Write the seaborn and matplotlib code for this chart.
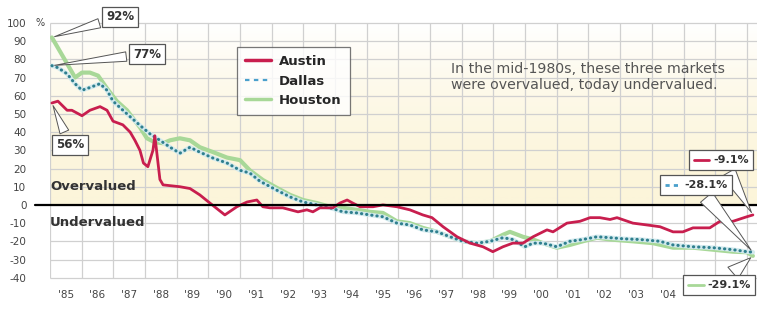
"""Texas housing markets: over/undervaluation, Austin vs Dallas vs Houston."""
import matplotlib

matplotlib.use("Agg")
import matplotlib.pyplot as plt
import numpy as np
import pandas as pd
import seaborn as sns
from matplotlib.colors import LinearSegmentedColormap
from matplotlib.lines import Line2D
from matplotlib.offsetbox import AnnotationBbox, DrawingArea, HPacker, TextArea

# values (percent over/under valued)
austin_years = [1985.06, 1985.25, 1985.54, 1985.69, 1986.01, 1986.26, 1986.58, 1986.80, 1986.99,
                1987.30, 1987.53, 1987.68, 1987.84, 1987.95, 1988.09, 1988.25, 1988.31, 1988.47,
                1988.57, 1989.10, 1989.42, 1989.73, 1990.05, 1990.52, 1990.90, 1991.22, 1991.53,
                1991.72, 1991.94, 1992.35, 1992.83, 1993.11, 1993.30, 1993.52, 1993.93, 1994.15,
                1994.38, 1994.56, 1994.79, 1995.20, 1995.51, 1995.95, 1996.36, 1996.77, 1997.06,
                1997.41, 1997.85, 1998.26, 1998.67, 1998.98, 1999.30, 1999.61, 1999.93, 2000.25,
                2000.69, 2000.88, 2001.32, 2001.73, 2002.05, 2002.36, 2002.68, 2002.90, 2003.40,
                2003.84, 2004.26, 2004.67, 2004.98, 2005.30, 2005.83, 2006.15, 2006.56, 2007.00,
                2007.19]
austin_values = [56, 57, 52, 52, 49, 52, 54, 52, 46,
                 44, 40, 35.5, 30, 23, 21, 30, 38, 14,
                 11, 10, 9, 5.5, 1, -5.5, -1, 1.6, 2.7,
                 -1, -1.6, -1.6, -3.8, -2.7, -3.8, -1.6, -1.6, 1,
                 2.7, 1, -1, -1, 0, -1, -2.7, -5.5, -7,
                 -12, -17.5, -21, -23, -25.7, -23, -21, -21, -17.5,
                 -13.7, -14.8, -10, -9, -7, -7, -8, -7, -10,
                 -11, -12, -14.8, -14.8, -12.6, -12.6, -9, -9, -6.5,
                 -5.5]

dallas_years = [1985.06, 1985.25, 1985.54, 1985.79, 1986.01, 1986.26, 1986.58, 1986.80, 1986.99,
                1987.43, 1987.84, 1988.16, 1988.47, 1988.79, 1989.10, 1989.42, 1989.73, 1990.15,
                1990.59, 1991.00, 1991.31, 1991.63, 1992.17, 1992.58, 1992.99, 1993.43, 1993.84,
                1994.25, 1994.69, 1995.10, 1995.51, 1995.95, 1996.36, 1996.77, 1997.22, 1997.63,
                1998.04, 1998.48, 1998.89, 1999.30, 1999.61, 1999.99, 2000.25, 2000.56, 2001.00,
                2001.41, 2001.82, 2002.27, 2002.68, 2003.09, 2003.62, 2004.26, 2004.67, 2005.30,
                2005.93, 2006.56, 2007.00, 2007.19]
dallas_values = [76.5, 75.4, 72, 66.6, 63, 64.5, 66.6, 63, 57,
                 50, 43.7, 39, 35.5, 31.7, 28.4, 31.7, 29, 25.7,
                 23, 19, 17.5, 13, 8, 4.4, 1.6, 0, -1.6,
                 -3.8, -4.4, -5.5, -6.5, -10, -11, -13.7, -14.8, -17.5,
                 -20, -21, -20, -18, -19, -23, -21, -21, -23,
                 -20, -19, -17.5, -18, -18.6, -19, -20, -22, -23,
                 -23.5, -24.6, -25.7, -26]

houston_years = [1985.06, 1985.54, 1985.79, 1986.01, 1986.26, 1986.52, 1986.80, 1987.11, 1987.43,
                 1987.84, 1988.06, 1988.31, 1988.57, 1988.79, 1989.10, 1989.42, 1989.73, 1990.15,
                 1990.59, 1991.00, 1991.31, 1991.72, 1992.17, 1992.58, 1992.99, 1993.43, 1993.84,
                 1994.25, 1994.69, 1995.10, 1995.51, 1995.95, 1996.36, 1996.77, 1997.22, 1997.63,
                 1998.04, 1998.48, 1998.89, 1999.30, 1999.52, 1999.93, 2000.25, 2000.56, 2001.00,
                 2001.41, 2001.82, 2002.27, 2002.68, 2003.40, 2004.03, 2004.67, 2005.30, 2005.93,
                 2006.56, 2007.00, 2007.19]
houston_values = [92, 77.6, 70, 72.7, 72.7, 71, 64, 57, 52,
                  42.6, 36.6, 34.4, 33.9, 35.5, 36.6, 35.5, 31.7, 29,
                  26, 24.6, 19, 13.7, 9.3, 5.5, 2.7, 1, -1,
                  -1.6, -2.7, -3.8, -4.4, -9, -10, -12.6, -14.8, -17.5,
                  -20, -21, -20, -16.4, -14.8, -17.5, -19, -21, -23.5,
                  -22, -20, -18, -19, -20, -21, -23.5, -23.5, -24.6,
                  -25.7, -26, -28]

year_ticks = list(range(1985, 2005))
year_labels = ["'" + str(y)[2:] for y in year_ticks]
pct_ticks = list(range(-40, 101, 10))

RED = "#c81e4e"
BLUE = "#2f7f8e"
LIGHTBLUE = "#4aa0cc"
GREEN = "#a8d898"
W, H = 757, 309
X0, X1 = 1985, 2007.32

sns.set_style("white")
plt.rcParams["font.family"] = ["DejaVu Sans"]

fig = plt.figure(figsize=(W / 100, H / 100), dpi=100)
ax = fig.add_axes([50 / W, 1 - 283 / H, 707 / W, 263 / H])

# yellow "overvalued" zone fading to white at the top
grad = np.linspace(0, 1, 200).reshape(-1, 1) ** 1.8
cmap = LinearSegmentedColormap.from_list("over", ["#fcf5da", "#ffffff"])
ax.imshow(grad, extent=[X0, X1, 0, 100], origin="lower", aspect="auto", cmap=cmap, zorder=0)
ax.set_xlim(X0, X1)
ax.set_ylim(-42.9, 101.6)

# grid
ax.vlines(range(1985, 2008), -40, 100, color="#d0d0d0", lw=0.9, zorder=1)
ax.hlines(pct_ticks, X0, X1, color="#d0d0d0", lw=0.9, zorder=1)

for s in ax.spines.values():
    s.set_visible(False)

df_h = pd.DataFrame({"year": houston_years, "value": houston_values})
df_d = pd.DataFrame({"year": dallas_years, "value": dallas_values})
df_a = pd.DataFrame({"year": austin_years, "value": austin_values})

sns.lineplot(data=df_h, x="year", y="value", ax=ax, color=GREEN, lw=3.0,
             sort=False, estimator=None, zorder=3)
sns.lineplot(data=df_d, x="year", y="value", ax=ax, color="#d3eaee", lw=3.2,
             sort=False, estimator=None, zorder=3.5)
sns.lineplot(data=df_d, x="year", y="value", ax=ax, color=BLUE, lw=2.2,
             linestyle=(0, (0.1, 1.6)), dash_capstyle="round",
             sort=False, estimator=None, zorder=4)
sns.lineplot(data=df_a, x="year", y="value", ax=ax, color=RED, lw=2.0,
             sort=False, estimator=None, zorder=5)

# zero line, runs a bit into the left margin
ax.plot([-15 / 707, 1], [0, 0], transform=ax.get_yaxis_transform(), color="black",
        lw=1.6, clip_on=False, zorder=6)

ax.set_xlabel("")
ax.set_ylabel("")
ax.set_xticks([y + 0.5 for y in year_ticks])
ax.set_xticklabels(year_labels)
ax.set_yticks(pct_ticks)
ax.set_yticklabels([str(v) for v in pct_ticks])
ax.tick_params(axis="both", length=0, labelsize=7.5, labelcolor="#444444")
ax.tick_params(axis="y", pad=17)
ax.tick_params(axis="x", pad=5)
fig.text(35 / W, 1 - 23 / H, "%", fontsize=7, color="#444444", va="center", ha="left")

fig.text(50 / W, 1 - 187 / H, "Overvalued", fontsize=9.5, fontweight="bold", color="#333333",
         va="center", ha="left")
fig.text(50 / W, 1 - 223 / H, "Undervalued", fontsize=9.5, fontweight="bold", color="#333333",
         va="center", ha="left")
fig.text(451 / W, 1 - 77 / H,
         "In the mid-1980s, these three markets\nwere overvalued, today undervalued.",
         fontsize=10.2, color="#555555", va="center", ha="left", linespacing=1.25)

handles = [Line2D([], [], color=RED, lw=2.5),
           Line2D([], [], color=LIGHTBLUE, lw=1.6, linestyle=(0, (2, 2))),
           Line2D([], [], color=GREEN, lw=2.5)]
leg = ax.legend(handles, ["Austin", "Dallas", "Houston"], loc="upper left",
                bbox_to_anchor=(237 / W, 1 - 47 / H), bbox_transform=fig.transFigure,
                prop={"weight": "bold", "size": 9.5}, frameon=True, fancybox=False,
                edgecolor="#555555", borderpad=0.6, labelspacing=0.5, handlelength=2.0,
                handletextpad=0.6, borderaxespad=0)
leg.get_frame().set_linewidth(0.9)
leg.set_zorder(10)

box = dict(boxstyle="square,pad=0.3", fc="white", ec="#555555", lw=0.9)
wedge = dict(arrowstyle="wedge,tail_width=0.8,shrink_factor=0.5", fc="white", ec="#555555", lw=0.7)


def callout(text, xy, center):
    ax.annotate(text, xy=xy, xycoords="data", xytext=(center[0], H - center[1]),
                textcoords="figure pixels", ha="center", va="center", fontsize=8.5,
                fontweight="bold", color="#333333", bbox=box, arrowprops=wedge, zorder=9,
                annotation_clip=False)


callout("92%", (houston_years[0], houston_values[0]), (120, 17))
callout("77%", (dallas_years[0], dallas_values[0]), (147, 54))
callout("56%", (austin_years[0], austin_values[0]), (70, 145))


def end_callout(text, xy, center, color, ls):
    da = DrawingArea(13, 8, 0, 0)
    da.add_artist(Line2D([1, 12], [4, 4], color=color, lw=2, linestyle=ls))
    ta = TextArea(text, textprops=dict(fontsize=8, fontweight="bold", color="#333333"))
    pack = HPacker(children=[da, ta], align="center", pad=0, sep=2)
    ab = AnnotationBbox(pack, xy, xybox=(center[0], H - center[1]), xycoords="data",
                        boxcoords="figure pixels", pad=0.2, annotation_clip=False,
                        bboxprops=dict(boxstyle="square", fc="white", ec="#555555", lw=0.9),
                        arrowprops=wedge, zorder=9)
    ax.add_artist(ab)


end_callout("-9.1%", (austin_years[-1], austin_values[-1]), (721, 160), RED, "-")
end_callout("-28.1%", (dallas_years[-1], dallas_values[-1]), (696, 185), LIGHTBLUE, (0, (1.5, 1.5)))
end_callout("-29.1%", (houston_years[-1], houston_values[-1]), (719, 285), GREEN, "-")

fig.savefig("out.png", dpi=100)
